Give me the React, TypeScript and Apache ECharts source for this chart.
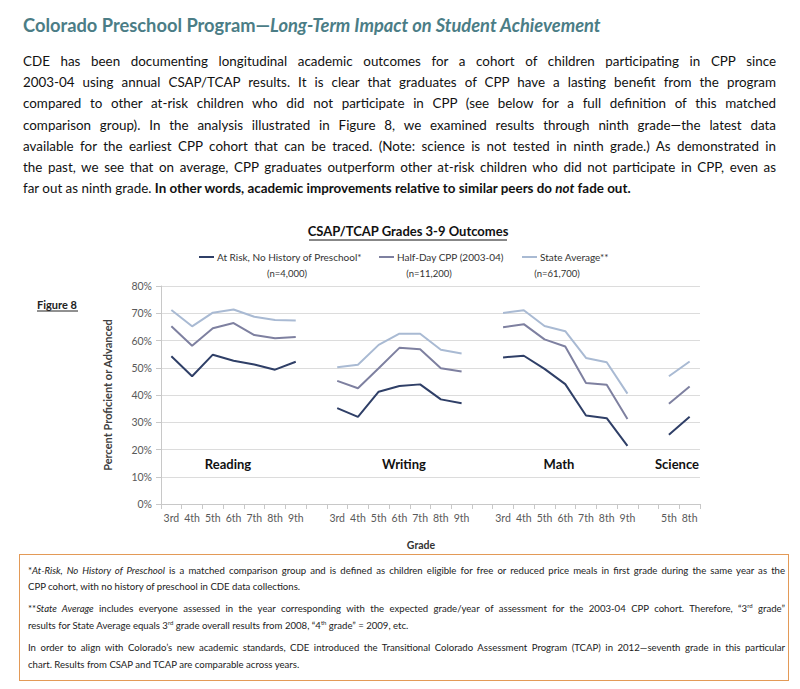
import React, { useEffect, useRef } from "react";
import * as echarts from "echarts";

// ---------- data ----------
const gradeLabels = [
  "3rd", "4th", "5th", "6th", "7th", "8th", "9th", "",
  "3rd", "4th", "5th", "6th", "7th", "8th", "9th", "",
  "3rd", "4th", "5th", "6th", "7th", "8th", "9th", "",
  "5th", "8th",
];
const yTicks = [0, 10, 20, 30, 40, 50, 60, 70, 80];

const seriesNames = [
  "At Risk, No History of Preschool*",
  "Half-Day CPP (2003-04)",
  "State Average**",
];
const sampleSizes = ["(n=4,000)", "(n=11,200)", "(n=61,700)"];
const subjects = ["Reading", "Writing", "Math", "Science"];

// At Risk, No History of Preschool
const readingAtRisk = [54.2, 46.9, 54.8, 52.6, 51.2, 49.3, 52.2];
const writingAtRisk = [35.2, 32.0, 41.2, 43.3, 43.9, 38.4, 37.0];
const mathAtRisk = [53.8, 54.4, 49.6, 44.0, 32.5, 31.5, 21.3];
const scienceAtRisk = [25.4, 32.0];

// Half-Day CPP (2003-04)
const readingHalfDay = [65.2, 58.1, 64.5, 66.4, 62.0, 60.8, 61.3];
const writingHalfDay = [45.2, 42.5, 49.8, 57.3, 56.8, 49.8, 48.6];
const mathHalfDay = [64.9, 66.0, 60.4, 57.8, 44.4, 43.8, 31.2];
const scienceHalfDay = [36.8, 43.1];

// State Average
const readingState = [71.2, 65.2, 70.2, 71.4, 68.7, 67.5, 67.3];
const writingState = [50.2, 51.1, 58.4, 62.5, 62.5, 56.6, 55.2];
const mathState = [70.1, 71.1, 65.3, 63.4, 53.6, 52.0, 40.5];
const scienceState = [46.9, 52.3];

const paragraphLines = [
  "CDE has been documenting longitudinal academic outcomes for a cohort of children participating in CPP since",
  "2003-04 using annual CSAP/TCAP results. It is clear that graduates of CPP have a lasting benefit from the program",
  "compared to other at-risk children who did not participate in CPP (see below for a full definition of this matched",
  "comparison group).  In the analysis illustrated in Figure 8, we examined results through ninth grade\u2014the latest data",
  "available for the earliest CPP cohort that can be traced. (Note: science is not tested in ninth grade.) As demonstrated in",
  "the past, we see that on average, CPP graduates outperform other at-risk children who did not participate in CPP, even as",
];

const colors = ["#2f3f67", "#7e80a0", "#a9bad3"];

function assemble(r: number[], w: number[], m: number[], s: number[]) {
  return [...r, null, ...w, null, ...m, null, ...s];
}

const seriesData = [
  assemble(readingAtRisk, writingAtRisk, mathAtRisk, scienceAtRisk),
  assemble(readingHalfDay, writingHalfDay, mathHalfDay, scienceHalfDay),
  assemble(readingState, writingState, mathState, scienceState),
];

const FONT = "Lato, 'Open Sans', sans-serif";

export default function App() {
  const ref = useRef<HTMLDivElement>(null);

  useEffect(() => {
    if (!ref.current) return;
    const chart = echarts.init(ref.current, undefined, { renderer: "svg" });
    const legendLefts = [199, 379, 522];
    const nCenters = [287, 429, 557];
    const subjectCenters = [228, 404, 559, 677];

    const option: any = {
      animation: false,
      textStyle: { fontFamily: FONT },
      grid: { left: 161, top: 286, width: 539, height: 218, containLabel: false },
      legend: seriesNames.map((n, i) => ({
        left: legendLefts[i],
        top: 252,
        data: [{ name: n, icon: "rect" }],
        itemWidth: 15,
        itemHeight: 2,
        itemGap: 0,
        padding: 0,
        textStyle: { fontFamily: FONT, fontSize: 10, color: "#333", padding: [0, 0, 0, -2] },
      })),
      xAxis: {
        type: "category",
        data: gradeLabels,
        boundaryGap: true,
        axisLine: { show: true, lineStyle: { color: "#c8c8c8", width: 1 } },
        axisTick: { show: true, length: 5, lineStyle: { color: "#c8c8c8" } },
        axisLabel: { fontFamily: FONT, fontSize: 10.5, color: "#595959", margin: 8, interval: 0 },
      },
      yAxis: {
        type: "value",
        min: 0,
        max: 80,
        interval: 10,
        name: "Percent Proficient or Advanced",
        nameLocation: "middle",
        nameRotate: 90,
        nameGap: 48,
        nameTextStyle: { fontFamily: FONT, fontSize: 11, fontWeight: "bold", color: "#404040" },
        axisLine: { show: true, lineStyle: { color: "#c8c8c8" } },
        axisTick: { show: true, length: 5, lineStyle: { color: "#c8c8c8" } },
        axisLabel: {
          fontFamily: FONT,
          fontSize: 10.5,
          color: "#595959",
          margin: 9,
          formatter: (v: number) => (yTicks.includes(v) ? `${v}%` : ""),
        },
        splitLine: { show: true, lineStyle: { color: "#dcdcdc", width: 1 } },
      },
      series: seriesNames.map((n, i) => ({
        name: n,
        type: "line",
        data: seriesData[i],
        symbol: "none",
        connectNulls: false,
        lineStyle: { color: colors[i], width: 2 },
        itemStyle: { color: colors[i] },
      })),
      graphic: [
        {
          type: "text",
          style: {
            text: "CSAP/TCAP Grades 3-9 Outcomes",
            x: 408,
            y: 231,
            align: "center",
            verticalAlign: "middle",
            font: `bold 13px ${FONT}`,
            fill: "#111",
          },
        },
        { type: "line", shape: { x1: 309, y1: 240, x2: 507, y2: 240 }, style: { stroke: "#111", lineWidth: 1 } },
        {
          type: "text",
          style: {
            text: "Figure 8",
            x: 37,
            y: 304,
            align: "left",
            verticalAlign: "middle",
            font: `bold 11px ${FONT}`,
            fill: "#222",
          },
        },
        { type: "line", shape: { x1: 37, y1: 311, x2: 78, y2: 311 }, style: { stroke: "#222", lineWidth: 1 } },
        ...sampleSizes.map((t, i) => ({
          type: "text",
          style: {
            text: t,
            x: nCenters[i],
            y: 273,
            align: "center",
            verticalAlign: "middle",
            font: `9.5px ${FONT}`,
            fill: "#333",
          },
        })),
        ...subjects.map((t, i) => ({
          type: "text",
          style: {
            text: t,
            x: subjectCenters[i],
            y: 464,
            align: "center",
            verticalAlign: "middle",
            font: `bold 13px ${FONT}`,
            fill: "#111",
          },
        })),
        {
          type: "text",
          style: {
            text: "Grade",
            x: 421,
            y: 545,
            align: "center",
            verticalAlign: "middle",
            font: `bold 10.5px ${FONT}`,
            fill: "#333",
          },
        },
      ],
    };
    chart.setOption(option);
    return () => chart.dispose();
  }, []);

  const lineH = 21.2;
  const justify: React.CSSProperties = {
    position: "absolute",
    left: 23,
    width: 753,
    whiteSpace: "nowrap",
    textAlign: "justify",
    textAlignLast: "justify" as any,
    fontSize: 13.4,
    lineHeight: `${lineH}px`,
    height: lineH,
    color: "#111",
  };
  const foot: React.CSSProperties = {
    position: "absolute",
    left: 8,
    width: 757,
    whiteSpace: "nowrap",
    fontSize: 9.6,
    lineHeight: "14px",
    height: 14,
    color: "#222",
  };
  const footJ: React.CSSProperties = { ...foot, textAlign: "justify", textAlignLast: "justify" as any };
  const sup: React.CSSProperties = { fontSize: 6, verticalAlign: "super", lineHeight: 0 };

  return (
    <div style={{ position: "absolute", left: 0, top: 0, width: 800, height: 689, background: "#fff", fontFamily: FONT, overflow: "hidden" }}>
      <div ref={ref} style={{ position: "absolute", left: 0, top: 0, width: 800, height: 689 }} />
      <div style={{ position: "absolute", left: 0, top: 0, width: 800, height: 689, pointerEvents: "none" }}>
        <div style={{ position: "absolute", left: 23, top: 13, fontSize: 18.3, lineHeight: "24px", color: "#4b7d86", fontWeight: "bold", whiteSpace: "nowrap" }}>
          Colorado Preschool Program{"\u2014"}<i>Long-Term Impact on Student Achievement</i>
        </div>
        {paragraphLines.map((l, i) => (
          <div key={i} style={{ ...justify, top: 51 + i * lineH }}>{l}</div>
        ))}
        <div style={{ ...justify, top: 51 + 6 * lineH, textAlignLast: "left" as any, textAlign: "left" }}>
          far out as ninth grade. <b>In other words, academic improvements relative to similar peers do <i>not</i> fade out.</b>
        </div>
        <div style={{ position: "absolute", left: 19, top: 554, width: 768, height: 125, border: "1.5px solid #e39a57" }}>
          <div style={{ ...footJ, top: 9 }}>
            *<i>At-Risk, No History of Preschool</i> is a matched comparison group and is defined as children eligible for free or reduced price meals in first grade during the same year as the
          </div>
          <div style={{ ...foot, top: 25 }}>CPP cohort, with no history of preschool in CDE data collections.</div>
          <div style={{ ...footJ, top: 47 }}>
            **<i>State Average</i> includes everyone assessed in the year corresponding with the expected grade/year of assessment for the 2003-04 CPP cohort. Therefore, {"\u201C"}3<span style={sup}>rd</span> grade{"\u201D"}
          </div>
          <div style={{ ...foot, top: 64 }}>
            results for State Average equals 3<span style={sup}>rd</span> grade overall results from 2008, {"\u201C"}4<span style={sup}>th</span> grade{"\u201D"} = 2009, etc.
          </div>
          <div style={{ ...footJ, top: 86 }}>
            In order to align with Colorado{"\u2019"}s new academic standards, CDE introduced the Transitional Colorado Assessment Program (TCAP) in 2012{"\u2014"}seventh grade in this particular
          </div>
          <div style={{ ...foot, top: 103 }}>chart. Results from CSAP and TCAP are comparable across years.</div>
        </div>
      </div>
    </div>
  );
}
